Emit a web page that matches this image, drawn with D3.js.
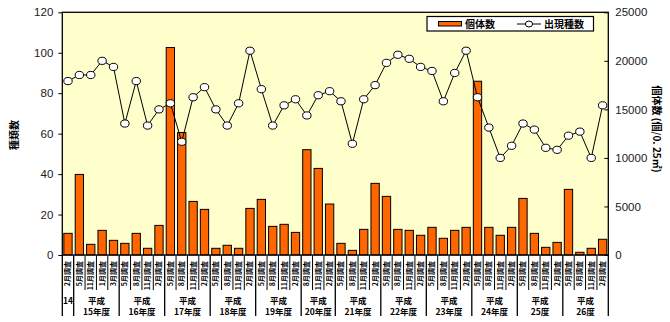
<!DOCTYPE html>
<html><head><meta charset="utf-8">
<script src="https://cdn.jsdelivr.net/npm/d3@7"></script>
<style>body{margin:0;background:#fff}svg{display:block}</style>
</head><body><svg id="c" width="670" height="322"></svg>
<script>
// ---- data ----
const months = [
  "2月調査",
  "5月調査","11月調査","1月調査","3月調査",
  "5月調査","8月調査","11月調査","2月調査",
  "5月調査","8月調査","11月調査","2月調査",
  "5月調査","8月調査","11月調査","2月調査",
  "5月調査","8月調査","11月調査","2月調査",
  "8月調査","11月調査","2月調査",
  "5月調査","8月調査","11月調査","2月調査",
  "5月調査","8月調査","11月調査","2月調査",
  "5月調査","8月調査","11月調査","2月調査",
  "5月調査","8月調査","11月調査","2月調査",
  "5月調査","8月調査","11月調査","2月調査",
  "5月調査","8月調査","11月調査","2月調査"
];
const yearBottom = ["14","15年度","16年度","17年度","18年度","19年度","20年度","21年度","22年度","23年度","24年度","25度","26度"];
const yearSizes = [1,4,4,4,4,4,3,4,4,4,4,4,4];
const yearTopLabels = ["", "平成","平成","平成","平成","平成","平成","平成","平成","平成","平成","平成","平成"];
const individuals = [2230, 8300, 1100, 2540, 1510, 1200, 2230, 690, 3050, 21370, 12620, 5520, 4700, 690, 1000, 690,
  4800, 5730, 2950, 3160, 2330, 10850, 8920, 5250, 1200, 480, 2640, 7380, 6040, 2640, 2540, 2030, 2850, 1720,
  2540, 2850, 17900, 2850, 2030, 2850, 5830, 2230, 790, 1300, 6760, 280, 690, 1620];
const species = [86, 89, 89, 96, 93, 65, 86, 64, 72, 75, 56, 78, 83, 72, 64,
  75, 101, 82, 64, 74, 77, 69, 79, 81, 76, 55, 77, 84, 95, 99, 97, 93, 91, 76,
  90, 101, 78, 63, 48, 54, 65, 62, 53, 52, 59, 61, 48, 74];
const leftTicks = [0, 20, 40, 60, 80, 100, 120];
const rightTicks = [0, 5000, 10000, 15000, 20000, 25000];
const legendLabels = ["個体数", "出現種数"];
const leftTitle = "種類数";
const rightTitle = "個体数 (個/0. 25㎡)";

// ---- layout ----
const L = 62.3, R = 608.3, T = 12.3, B = 255;
const svg = d3.select("#c");
const idx = d3.range(months.length);
const x = d3.scaleBand().domain(idx).range([L, R]).paddingInner(0).paddingOuter(0);
const xb = d3.scaleBand().domain(idx).range([L, R]).paddingInner(0.27).paddingOuter(0.135);
const yL = d3.scaleLinear().domain([0, 120]).range([B, T]);
const yR = d3.scaleLinear().domain([0, 25000]).range([B, T]);
const numFont = "'Liberation Sans', Arial, sans-serif";
const jpFont = "'Noto Sans CJK JP', 'Noto Sans', sans-serif";

svg.append("rect").attr("x", L).attr("y", T).attr("width", R - L).attr("height", B - T)
  .attr("fill", "#FFFFCC");

// bars
svg.append("g").selectAll("rect").data(individuals).join("rect")
  .attr("x", (d, i) => xb(i)).attr("width", xb.bandwidth())
  .attr("y", d => yR(d)).attr("height", d => B - yR(d))
  .attr("fill", "#FF6600").attr("stroke", "#000").attr("stroke-width", 1);

// line
const line = d3.line().x((d, i) => x(i) + x.bandwidth() / 2).y(d => yL(d));
svg.append("path").datum(species).attr("d", line).attr("fill", "none")
  .attr("stroke", "#000").attr("stroke-width", 1);
svg.append("g").selectAll("ellipse").data(species).join("ellipse")
  .attr("cx", (d, i) => x(i) + x.bandwidth() / 2).attr("cy", d => yL(d))
  .attr("rx", 4.2).attr("ry", 3.6)
  .attr("fill", "#fff").attr("stroke", "#000").attr("stroke-width", 1);

// frame
svg.append("rect").attr("x", L).attr("y", T).attr("width", R - L).attr("height", B - T)
  .attr("fill", "none").attr("stroke", "#000").attr("stroke-width", 1.3);

// axes
const ga = svg.append("g").attr("transform", `translate(${L},0)`)
  .call(d3.axisLeft(yL).tickValues(leftTicks).tickSize(4).tickPadding(5).tickFormat(d3.format("d")));
ga.select(".domain").remove();
ga.selectAll("text").attr("font-family", numFont).attr("font-size", 11.5).attr("fill", "#1a1a1a");
ga.selectAll("line").attr("stroke", "#000");
const gr = svg.append("g").attr("transform", `translate(${R},0)`)
  .call(d3.axisRight(yR).tickValues(rightTicks).tickSizeInner(-4).tickSizeOuter(0).tickPadding(7).tickFormat(d3.format("d")));
gr.select(".domain").remove();
gr.selectAll("text").attr("font-family", numFont).attr("font-size", 11.5).attr("fill", "#1a1a1a");
gr.selectAll("line").attr("stroke", "#000");

// x axis: month labels
const gx = svg.append("g");
gx.selectAll("text.m").data(months).join("text").attr("class", "m")
  .attr("transform", (d, i) => `translate(${x(i) + x.bandwidth() / 2 + 2.5},261) rotate(-90)`)
  .attr("text-anchor", "end")
  .attr("font-family", jpFont).attr("font-size", 7).attr("font-weight", "bold").attr("fill", "#000")
  .text(d => d);

// separators
let starts = [0];
yearSizes.forEach((s, k) => starts.push(starts[k] + s));
const groupEdges = new Set(starts);
idx.concat([months.length]).forEach(i => {
  const xx = i < months.length ? x(i) : R;
  const long = groupEdges.has(i);
  gx.append("line").attr("x1", xx).attr("x2", xx).attr("y1", B).attr("y2", long ? 316 : 290)
    .attr("stroke", "#000").attr("stroke-width", long ? 1.3 : 1);
});

// year labels
yearSizes.forEach((s, k) => {
  const a = starts[k], b = starts[k + 1];
  const cx = (x(a) + (b < months.length ? x(b) : R)) / 2;
  if (yearTopLabels[k]) {
    gx.append("text").attr("x", cx).attr("y", 304).attr("text-anchor", "middle")
      .attr("font-family", jpFont).attr("font-size", 8.5).attr("font-weight", "bold").text(yearTopLabels[k]);
    gx.append("text").attr("x", cx).attr("y", 315).attr("text-anchor", "middle")
      .attr("font-family", jpFont).attr("font-size", 8.5).attr("font-weight", "bold").text(yearBottom[k]);
  } else {
    gx.append("text").attr("x", cx).attr("y", 304).attr("text-anchor", "middle")
      .attr("font-family", jpFont).attr("font-size", 8.5).attr("font-weight", "bold").text(yearBottom[k]);
  }
});

// titles
svg.append("text").attr("transform", "translate(18,135) rotate(-90)").attr("text-anchor", "middle")
  .attr("font-family", jpFont).attr("font-size", 10).attr("font-weight", "bold").text(leftTitle);
svg.append("text").attr("transform", "translate(653,129) rotate(90)").attr("text-anchor", "middle")
  .attr("font-family", jpFont).attr("font-size", 10).attr("font-weight", "bold").text(rightTitle);

// legend
const lg = svg.append("g");
lg.append("rect").attr("x", 427).attr("y", 16.5).attr("width", 166.5).attr("height", 14.5)
  .attr("fill", "#fff").attr("stroke", "#000").attr("stroke-width", 1.2);
lg.append("rect").attr("x", 438.5).attr("y", 21.5).attr("width", 23).attr("height", 4.5)
  .attr("fill", "#FF6600").attr("stroke", "#000").attr("stroke-width", 1);
lg.append("text").attr("x", 465).attr("y", 28).attr("font-family", jpFont).attr("font-size", 10)
  .attr("font-weight", "bold").text(legendLabels[0]);
lg.append("line").attr("x1", 517).attr("x2", 541).attr("y1", 24).attr("y2", 24).attr("stroke", "#000");
lg.append("ellipse").attr("cx", 529).attr("cy", 24).attr("rx", 3.6).attr("ry", 3)
  .attr("fill", "#fff").attr("stroke", "#000");
lg.append("text").attr("x", 544).attr("y", 28).attr("font-family", jpFont).attr("font-size", 10)
  .attr("font-weight", "bold").text(legendLabels[1]);
</script></body></html>
